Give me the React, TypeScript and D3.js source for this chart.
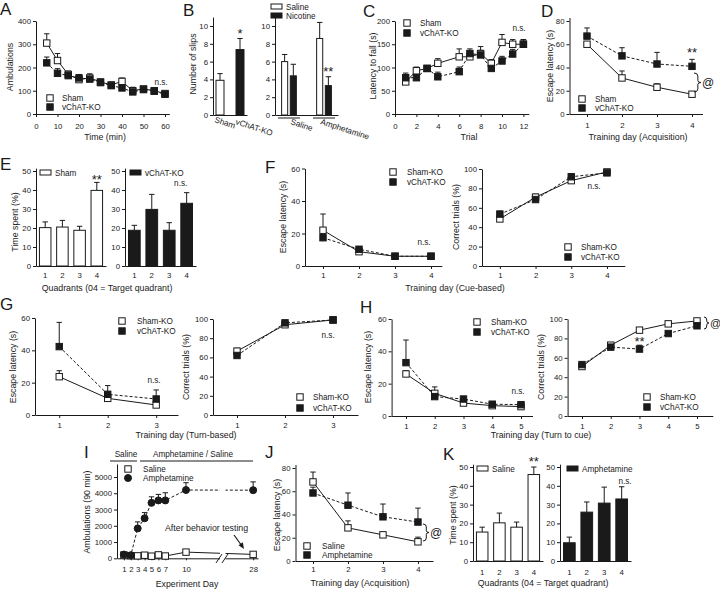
import React, { useEffect, useRef } from 'react';
import * as d3 from 'd3';

// ---------- data ----------
// A  open field
const timeMin = [5, 10, 15, 20, 25, 30, 35, 40, 45, 50, 55, 60];
const ambSham = [305, 230, 170, 148, 155, 138, 125, 140, 100, 108, 100, 88];
const ambShamErr = [40, 30, 15, 15, 18, 12, 12, 15, 15, 10, 10, 8];
const ambKo = [220, 175, 165, 155, 150, 135, 122, 112, 95, 105, 98, 85];
const ambKoErr = [25, 20, 15, 15, 15, 12, 10, 12, 10, 12, 10, 10];

// B  slips
const slipGroups = ['Sham', 'vChAT-KO'];
const slipMean = [3.9, 7.35];
const slipErr = [0.75, 1.25];
const drugGroups = ['Saline', 'Amphetamine'];
const treatGroups = ['Saline', 'Nicotine'];
const slipSaline = [6.0, 8.6];
const slipSalineErr = [0.8, 1.8];
const slipNicotine = [4.4, 3.3];
const slipNicotineErr = [1.3, 1.0];

// C  rotarod
const trials = [1, 2, 3, 4, 6, 7, 8, 9, 10, 11, 12];
const fallSham = [69, 93, 98, 109, 123, 123, 130, 109, 154, 150, 150];
const fallShamErr = [6, 8, 5, 10, 17, 12, 15, 8, 17, 10, 10];
const fallKo = [78, 78, 98, 80, 91, 130, 127, 98, 114, 129, 150];
const fallKoErr = [10, 8, 5, 10, 10, 10, 10, 8, 10, 10, 10];

// D  acquisition
const days4 = [1, 2, 3, 4];
const acqSham = [60, 31, 23, 17];
const acqShamErr = [1, 6, 3, 1];
const acqKo = [67, 50, 43, 41];
const acqKoErr = [7, 7, 10, 6];

// E  probe
const quadrants = ['1', '2', '3', '4'];
const probeSham = [20.2, 20.5, 18.8, 39.8];
const probeShamErr = [3, 3.5, 2.1, 4.2];
const probeKo = [18.8, 29.8, 18.8, 33];
const probeKoErr = [2.6, 7.9, 4, 5.6];

// F  cue-based
const cueLatSham = [22, 8.8, 6, 6];
const cueLatShamErr = [10, 1, 0.5, 1];
const cueLatKo = [17.4, 10.3, 6, 6];
const cueLatKoErr = [1.5, 1.5, 1, 1];
const cueCorSham = [48.5, 71, 88, 97];
const cueCorShamErr = [2, 3, 2, 1];
const cueCorKo = [53.5, 68.5, 92, 96];
const cueCorKoErr = [3, 2, 1, 1];

// G  turn-based
const days3 = [1, 2, 3];
const turnLatSham = [23.7, 10.3, 6.2];
const turnLatShamErr = [3.7, 1, 1.5];
const turnLatKo = [42.3, 12.8, 9.9];
const turnLatKoErr = [15, 5.4, 5.6];
const turnCorSham = [66.5, 94, 99];
const turnCorShamErr = [3, 1, 0.5];
const turnCorKo = [62, 96, 99];
const turnCorKoErr = [3, 1, 0.5];

// H  turn to cue
const days5 = [1, 2, 3, 4, 5];
const ttcLatSham = [26, 14, 8, 6.4, 5.8];
const ttcLatShamErr = [2, 4, 1, 1, 1];
const ttcLatKo = [33, 12, 10.5, 7.3, 7];
const ttcLatKoErr = [14, 2, 1.5, 1, 1];
const ttcCorSham = [51, 73, 88.5, 95, 98];
const ttcCorShamErr = [2, 2, 1.5, 1, 1];
const ttcCorKo = [53, 71, 69, 85, 93];
const ttcCorKoErr = [2, 2, 4, 2, 2];

// I  amphetamine sensitisation
const expDays = [1, 2, 3, 4, 5, 6, 7, 10, 28];
const expDayTicks = [1, 2, 3, 4, 5, 6, 7, 10, 28];
const ambSal = [200, 160, 150, 190, 130, 210, 140, 380, 240];
const ambSalErr = [0, 0, 0, 0, 0, 0, 0, 0, 0];
const ambAmph = [230, 190, 1840, 2460, 3410, 3560, 3560, 4200, 4190];
const ambAmphErr = [0, 0, 400, 350, 370, 370, 470, 450, 510];

// J  acquisition after amphetamine
const jSal = [68, 28.5, 22.5, 16.5];
const jSalErr = [8.5, 6, 1, 4];
const jAmph = [58.5, 48, 38, 33.5];
const jAmphErr = [5, 10.5, 11, 12];

// K  probe after amphetamine
const kSal = [15.4, 20.3, 18, 46];
const kSalErr = [2.6, 5.2, 2.7, 4];
const kAmph = [9.7, 26, 30.8, 33];
const kAmphErr = [3, 5.4, 8.5, 6.5];

// ---------- helpers ----------
const INK = '#1a1a1a';
const FONT = '"Liberation Sans", Arial, Helvetica, sans-serif';
const TICK = 7.8;
const LEG = 8.2;
const TITLE = 8.8;
const fmt = d3.format('d');

type Ser = { xs: number[]; mean: number[]; err: number[]; filled: boolean; dashed: boolean; shape?: string };

function styleAxis(a: any) {
  a.attr('font-family', FONT).attr('font-size', TICK);
  a.select('.domain').attr('stroke', INK).attr('stroke-width', 1);
  a.selectAll('.tick line').attr('stroke', INK).attr('stroke-width', 1);
  a.selectAll('.tick text').attr('fill', INK);
}

function yAxis(g: any, y: any, x: number, ticks: number[]) {
  const a = g.append('g').attr('transform', `translate(${x},0)`)
    .call(d3.axisLeft(y).tickValues(ticks).tickSize(3).tickSizeOuter(0).tickPadding(2).tickFormat(fmt as any));
  styleAxis(a);
}

function xAxis(g: any, x: any, y: number, ticks: number[], size: number, pad: number) {
  const a = g.append('g').attr('transform', `translate(0,${y})`)
    .call(d3.axisBottom(x).tickValues(ticks).tickSize(size).tickSizeOuter(0).tickPadding(pad).tickFormat(fmt as any));
  styleAxis(a);
}

function bandAxis(g: any, x: any, y: number, pad: number) {
  const a = g.append('g').attr('transform', `translate(0,${y})`)
    .call(d3.axisBottom(x).tickSize(0).tickSizeOuter(0).tickPadding(pad));
  styleAxis(a);
  return a;
}

function txt(g: any, x: number, y: number, s: string, size = LEG, anchor = 'start', rot = 0) {
  return g.append('text')
    .attr('transform', `translate(${x},${y})` + (rot ? ` rotate(${rot})` : ''))
    .attr('text-anchor', anchor)
    .attr('font-family', FONT).attr('font-size', size).attr('fill', INK)
    .text(s);
}
const letter = (g: any, x: number, y: number, s: string) => txt(g, x, y, s, 17);
const ytitle = (g: any, cx: number, cy: number, s: string) => txt(g, cx + 3, cy, s, TITLE, 'middle', -90);

function mark(g: any, cx: number, cy: number, filled: boolean, shape = 'square') {
  if (shape === 'circle') {
    g.append('circle').attr('cx', cx).attr('cy', cy).attr('r', 3.5)
      .attr('fill', filled ? INK : '#fff').attr('stroke', INK).attr('stroke-width', 1);
  } else {
    g.append('rect').attr('x', cx - 3.2).attr('y', cy - 3.2).attr('width', 6.4).attr('height', 6.4)
      .attr('fill', filled ? INK : '#fff').attr('stroke', INK).attr('stroke-width', 1);
  }
}

function legend(g: any, cx: number, cy: number, filled: boolean, s: string, gap = 13, shape = 'square') {
  mark(g, cx, cy, filled, shape);
  txt(g, cx + gap, cy + 3, s, LEG);
}

function boxLegend(g: any, x: number, y: number, filled: boolean, s: string) {
  g.append('rect').attr('x', x).attr('y', y).attr('width', 11).attr('height', 5)
    .attr('fill', filled ? INK : '#fff').attr('stroke', INK).attr('stroke-width', 1);
  txt(g, x + 15, y + 5.5, s, LEG);
}

function errBar(g: any, cx: number, y0: number, y1: number, cap = 2.7) {
  g.append('line').attr('x1', cx).attr('x2', cx).attr('y1', y0).attr('y2', y1).attr('stroke', INK).attr('stroke-width', 1);
  g.append('line').attr('x1', cx - cap).attr('x2', cx + cap).attr('y1', y1).attr('y2', y1).attr('stroke', INK).attr('stroke-width', 1);
}

function drawPaths(g: any, x: any, y: any, list: Ser[]) {
  list.forEach((s) => {
    const line = d3.line<number>().x((_, i) => x(s.xs[i])).y((d) => y(d));
    g.append('path').attr('d', line(s.mean)).attr('fill', 'none').attr('stroke', INK)
      .attr('stroke-width', 1).attr('stroke-dasharray', s.dashed ? '3,2' : null);
  });
}
function drawErrs(g: any, x: any, y: any, list: Ser[]) {
  list.forEach((s) => s.mean.forEach((m, i) => {
    if (s.err[i]) errBar(g, x(s.xs[i]), y(m), y(m + s.err[i]));
  }));
}
function drawMarks(g: any, x: any, y: any, list: Ser[]) {
  list.forEach((s) => s.mean.forEach((m, i) => mark(g, x(s.xs[i]), y(m), s.filled, s.shape)));
}
function plot(g: any, x: any, y: any, list: Ser[]) {
  drawPaths(g, x, y, list);
  drawErrs(g, x, y, list);
  drawMarks(g, x, y, list);
}

function drawBars(g: any, xb: any, y: any, cats: string[], mean: number[], err: number[], filled: boolean, offset = 0) {
  cats.forEach((c, i) => {
    const x0 = xb(c) + offset, w = xb.bandwidth();
    g.append('rect').attr('x', x0).attr('y', y(mean[i])).attr('width', w).attr('height', y(0) - y(mean[i]))
      .attr('fill', filled ? INK : '#fff').attr('stroke', INK).attr('stroke-width', 1);
    errBar(g, x0 + w / 2, y(mean[i]), y(mean[i] + err[i]));
  });
}

function brace(g: any, x: number, y0: number, y1: number, w = 6) {
  const m = (y0 + y1) / 2;
  const xm = x + w * 0.55;
  g.append('path')
    .attr('d', `M${x},${y0} Q${xm},${y0} ${xm},${y0 + 3} L${xm},${m - 2} Q${xm},${m} ${x + w},${m} Q${xm},${m} ${xm},${m + 2} L${xm},${y1 - 3} Q${xm},${y1} ${x},${y1}`)
    .attr('fill', 'none').attr('stroke', INK).attr('stroke-width', 1);
}

// ---------- panels ----------
function drawA(svg: any) {
  const g = svg.append('g');
  const x = d3.scaleLinear().domain([0, 62]).range([36, 169.3]);
  const y = d3.scaleLinear().domain([0, 400]).range([114, 21]);
  yAxis(g, y, 36, [0, 100, 200, 300, 400]);
  xAxis(g, x, 114, [0, 10, 20, 30, 40, 50, 60], 3, 6);
  plot(g, x, y, [
    { xs: timeMin, mean: ambSham, err: ambShamErr, filled: false, dashed: false },
    { xs: timeMin, mean: ambKo, err: ambKoErr, filled: true, dashed: true },
  ]);
  letter(g, 0, 15, 'A');
  legend(g, 50, 98, false, 'Sham', 12);
  legend(g, 50, 107, true, 'vChAT-KO', 12);
  txt(g, 161, 85, 'n.s.', LEG, 'middle');
  txt(g, 105, 140, 'Time (min)', TITLE, 'middle');
  ytitle(g, 10, 67, 'Ambulations');
}

function drawB(svg: any) {
  const g = svg.append('g');
  const y = d3.scaleLinear().domain([0, 11]).range([115, 17.1]);
  // left: genotype
  const xl = d3.scaleBand().domain(slipGroups).range([213, 247]).paddingInner(0.6).paddingOuter(0.15);
  yAxis(g, y, 213, [0, 2, 4, 6, 8, 10]);
  bandAxis(g, xl, 115, 0).selectAll('.tick text').remove();
  drawBars(g, xl, y, slipGroups.slice(0, 1), slipMean.slice(0, 1), slipErr.slice(0, 1), false);
  drawBars(g, xl, y, slipGroups.slice(1), slipMean.slice(1), slipErr.slice(1), true);
  txt(g, (xl('vChAT-KO') as number) + xl.bandwidth() / 2, 38, '*', 13, 'middle');
  txt(g, 214, 122, 'Sham', LEG, 'start', 18);
  txt(g, 235, 124, 'vChAT-KO', LEG, 'start', 18);
  ytitle(g, 193, 64, 'Number of slips');
  letter(g, 183, 16, 'B');

  // right: drug x treatment
  const xg = d3.scaleBand().domain(drugGroups).range([275, 338]).paddingInner(0.43).paddingOuter(0.114);
  const xs = d3.scaleBand().domain(treatGroups).range([0, xg.bandwidth()]).padding(0.3);
  yAxis(g, y, 275, [0, 2, 4, 6, 8, 10]);
  bandAxis(g, xg, 115, 0).selectAll('.tick text').remove();
  drugGroups.forEach((d, i) => {
    const off = xg(d) as number;
    const gx = d3.scaleBand().domain(treatGroups).range([off, off + xg.bandwidth()]).padding(0.3);
    drawBars(g, gx, y, ['Saline'], [slipSaline[i]], [slipSalineErr[i]], false);
    drawBars(g, gx, y, ['Nicotine'], [slipNicotine[i]], [slipNicotineErr[i]], true);
    g.append('line').attr('x1', off - 1).attr('x2', off + xg.bandwidth() + 1).attr('y1', 118).attr('y2', 118)
      .attr('stroke', INK).attr('stroke-width', 1);
  });
  const amphOff = xg('Amphetamine') as number;
  txt(g, amphOff + (xs('Nicotine') as number) + xs.bandwidth() / 2, 76, '**', 13, 'middle');
  txt(g, 290, 124, 'Saline', LEG, 'start', 18);
  txt(g, 320, 124, 'Amphetamine', LEG, 'start', 18);
  boxLegend(g, 271, 4, false, 'Saline');
  boxLegend(g, 271, 13, true, 'Nicotine');
}

function drawC(svg: any) {
  const g = svg.append('g');
  const x = d3.scaleLinear().domain([0, 12.5]).range([395, 528.75]);
  const y = d3.scaleLinear().domain([0, 200]).range([114, 21]);
  yAxis(g, y, 395, [0, 50, 100, 150, 200]);
  xAxis(g, x, 114, [0, 2, 4, 6, 8, 10, 12], 3, 6);
  plot(g, x, y, [
    { xs: trials, mean: fallSham, err: fallShamErr, filled: false, dashed: false },
    { xs: trials, mean: fallKo, err: fallKoErr, filled: true, dashed: true },
  ]);
  letter(g, 363, 17, 'C');
  legend(g, 407, 23, false, 'Sham');
  legend(g, 407, 33, true, 'vChAT-KO');
  txt(g, 519, 31, 'n.s.', LEG, 'middle');
  txt(g, 469, 140, 'Trial', TITLE, 'middle');
  ytitle(g, 373, 66, 'Latency to fall (s)');
}

function drawD(svg: any) {
  const g = svg.append('g');
  const x = d3.scaleLinear().domain([0.5, 4.3]).range([569.5, 702.5]);
  const y = d3.scaleLinear().domain([0, 83]).range([114, 17.5]);
  yAxis(g, y, 569.5, [0, 20, 40, 60, 80]);
  xAxis(g, x, 114, days4, 3, 5);
  plot(g, x, y, [
    { xs: days4, mean: acqSham, err: acqShamErr, filled: false, dashed: false },
    { xs: days4, mean: acqKo, err: acqKoErr, filled: true, dashed: true },
  ]);
  letter(g, 541, 17, 'D');
  legend(g, 582, 99, false, 'Sham');
  legend(g, 582, 108, true, 'vChAT-KO');
  txt(g, x(4), 57, '**', 13, 'middle');
  brace(g, 694, 73, 92, 7);
  txt(g, 702, 87, '@', 12);
  txt(g, 638, 140, 'Training day (Acquisition)', TITLE, 'middle');
  ytitle(g, 550, 66, 'Escape latency (s)');
}

function drawE(svg: any) {
  const g = svg.append('g');
  const y = d3.scaleLinear().domain([0, 51.5]).range([266, 168.15]);
  const xl = d3.scaleBand().domain(quadrants).range([36, 106]).paddingInner(0.33).paddingOuter(0.2);
  const xr = d3.scaleBand().domain(quadrants).range([125, 196]).paddingInner(0.33).paddingOuter(0.2);
  yAxis(g, y, 36, [0, 10, 20, 30, 40, 50]);
  yAxis(g, y, 125, [0, 10, 20, 30, 40, 50]);
  bandAxis(g, xl, 266, 6);
  bandAxis(g, xr, 266, 6);
  drawBars(g, xl, y, quadrants, probeSham, probeShamErr, false);
  drawBars(g, xr, y, quadrants, probeKo, probeKoErr, true);
  boxLegend(g, 40, 170, false, 'Sham');
  boxLegend(g, 130, 170, true, 'vChAT-KO');
  txt(g, (xl('4') as number) + xl.bandwidth() / 2, 184, '**', 13, 'middle');
  txt(g, (xr('4') as number) + xr.bandwidth() / 2 - 6, 186, 'n.s.', LEG, 'middle');
  letter(g, 0, 170, 'E');
  txt(g, 107, 291, 'Quadrants (04 = Target quadrant)', TITLE, 'middle');
  ytitle(g, 15, 222, 'Time spent (%)');
}

function drawF(svg: any) {
  const g = svg.append('g');
  const xl = d3.scaleLinear().domain([0.5, 4.3]).range([305, 441.8]);
  const yl = d3.scaleLinear().domain([0, 60]).range([266, 168.5]);
  yAxis(g, yl, 305, [0, 20, 40, 60]);
  xAxis(g, xl, 266, days4, 3, 3);
  plot(g, xl, yl, [
    { xs: days4, mean: cueLatSham, err: cueLatShamErr, filled: false, dashed: false },
    { xs: days4, mean: cueLatKo, err: cueLatKoErr, filled: true, dashed: true },
  ]);
  legend(g, 393, 172, false, 'Sham-KO', 14);
  legend(g, 393, 182, true, 'vChAT-KO', 14);
  txt(g, 424, 245, 'n.s.', LEG, 'middle');
  ytitle(g, 283, 217, 'Escape latency (s)');

  const xr = d3.scaleLinear().domain([0.5, 4.5]).range([482, 624.8]);
  const yr = d3.scaleLinear().domain([0, 100]).range([266, 169]);
  yAxis(g, yr, 482, [0, 20, 40, 60, 80, 100]);
  xAxis(g, xr, 266, days4, 3, 3);
  plot(g, xr, yr, [
    { xs: days4, mean: cueCorSham, err: cueCorShamErr, filled: false, dashed: false },
    { xs: days4, mean: cueCorKo, err: cueCorKoErr, filled: true, dashed: true },
  ]);
  legend(g, 568, 247, false, 'Sham-KO');
  legend(g, 568, 257, true, 'vChAT-KO');
  txt(g, 594, 189, 'n.s.', LEG, 'middle');
  ytitle(g, 456, 217, 'Correct trials (%)');
  letter(g, 265, 173, 'F');
  txt(g, 455, 291, 'Training day (Cue-based)', TITLE, 'middle');
}

function drawG(svg: any) {
  const g = svg.append('g');
  const xl = d3.scaleLinear().domain([0.5, 3.45]).range([35, 178]);
  const yl = d3.scaleLinear().domain([0, 60]).range([415, 318]);
  yAxis(g, yl, 35, [0, 20, 40, 60]);
  xAxis(g, xl, 415, days3, 3, 4);
  plot(g, xl, yl, [
    { xs: days3, mean: turnLatSham, err: turnLatShamErr, filled: false, dashed: false },
    { xs: days3, mean: turnLatKo, err: turnLatKoErr, filled: true, dashed: true },
  ]);
  legend(g, 122, 321, false, 'Sham-KO', 15);
  legend(g, 122, 331, true, 'vChAT-KO', 15);
  txt(g, 154, 383, 'n.s.', LEG, 'middle');
  ytitle(g, 13, 367, 'Escape latency (s)');

  const xr = d3.scaleLinear().domain([0.5, 3.52]).range([213, 358]);
  const yr = d3.scaleLinear().domain([0, 100]).range([415, 319]);
  yAxis(g, yr, 213, [0, 20, 40, 60, 80, 100]);
  xAxis(g, xr, 415, days3, 3, 4);
  plot(g, xr, yr, [
    { xs: days3, mean: turnCorSham, err: turnCorShamErr, filled: false, dashed: false },
    { xs: days3, mean: turnCorKo, err: turnCorKoErr, filled: true, dashed: true },
  ]);
  legend(g, 300, 397, false, 'Sham-KO');
  legend(g, 300, 408, true, 'vChAT-KO');
  txt(g, 328, 338, 'n.s.', LEG, 'middle');
  ytitle(g, 186, 367, 'Correct trials (%)');
  letter(g, 0, 310, 'G');
  txt(g, 186, 438, 'Training day (Turn-based)', TITLE, 'middle');
}

function drawH(svg: any) {
  const g = svg.append('g');
  const xl = d3.scaleLinear().domain([0.5, 5.4]).range([391.6, 532.5]);
  const yl = d3.scaleLinear().domain([0, 60]).range([416, 319]);
  yAxis(g, yl, 391.6, [0, 20, 40, 60]);
  xAxis(g, xl, 416, days5, 3, 4);
  plot(g, xl, yl, [
    { xs: days5, mean: ttcLatSham, err: ttcLatShamErr, filled: false, dashed: false },
    { xs: days5, mean: ttcLatKo, err: ttcLatKoErr, filled: true, dashed: true },
  ]);
  legend(g, 477, 322, false, 'Sham-KO', 14);
  legend(g, 477, 332, true, 'vChAT-KO', 14);
  txt(g, 518, 394, 'n.s.', LEG, 'middle');
  ytitle(g, 368, 367, 'Escape latency (s)');

  const xr = d3.scaleLinear().domain([0.5, 5.55]).range([567.6, 712.8]);
  const yr = d3.scaleLinear().domain([0, 100]).range([416, 319]);
  yAxis(g, yr, 567.6, [0, 20, 40, 60, 80, 100]);
  xAxis(g, xr, 416, days5, 3, 4);
  plot(g, xr, yr, [
    { xs: days5, mean: ttcCorSham, err: ttcCorShamErr, filled: false, dashed: false },
    { xs: days5, mean: ttcCorKo, err: ttcCorKoErr, filled: true, dashed: true },
  ]);
  legend(g, 647, 397, false, 'Sham-KO');
  legend(g, 647, 407, true, 'vChAT-KO');
  txt(g, xr(3), 346, '**', 13, 'middle');
  brace(g, 704, 317, 329, 5);
  txt(g, 710, 327, '@', 11);
  ytitle(g, 541, 367, 'Correct trials (%)');
  letter(g, 360, 313, 'H');
  txt(g, 541, 438, 'Training day (Turn to cue)', TITLE, 'middle');
}

function drawI(svg: any) {
  const g = svg.append('g');
  const x = d3.scaleLinear().domain([0, 10, 29.3]).range([117, 186, 258]);
  const y = d3.scaleLinear().domain([0, 5800]).range([558.3, 464]);
  yAxis(g, y, 117, [0, 1000, 2000, 3000, 4000, 5000]);
  xAxis(g, x, 558.3, expDayTicks, 2, 6);
  const list: Ser[] = [
    { xs: expDays, mean: ambSal, err: ambSalErr, filled: false, dashed: false },
    { xs: expDays, mean: ambAmph, err: ambAmphErr, filled: true, dashed: true, shape: 'circle' },
  ];
  drawPaths(g, x, y, list);
  // axis break
  g.append('rect').attr('x', 220).attr('y', 462).attr('width', 5.5).attr('height', 100).attr('fill', '#fff');
  [0, 6].forEach((dx) => {
    g.append('line').attr('x1', 216 + dx).attr('y1', 563).attr('x2', 222 + dx).attr('y2', 554)
      .attr('stroke', INK).attr('stroke-width', 1);
  });
  drawErrs(g, x, y, list);
  drawMarks(g, x, y, list);
  legend(g, 128, 469, false, 'Saline', 15);
  legend(g, 128, 478, true, 'Amphetamine', 15, 'circle');
  txt(g, 126, 457, 'Saline', LEG, 'middle');
  txt(g, 193, 457, 'Amphetamine / Saline', LEG, 'middle');
  g.append('line').attr('x1', 110).attr('x2', 137).attr('y1', 461).attr('y2', 461).attr('stroke', INK).attr('stroke-width', 1);
  g.append('line').attr('x1', 140).attr('x2', 253).attr('y1', 461).attr('y2', 461).attr('stroke', INK).attr('stroke-width', 1);
  txt(g, 165, 531, 'After behavior testing', TITLE);
  g.append('line').attr('x1', 234).attr('y1', 535).attr('x2', 242).attr('y2', 546).attr('stroke', INK).attr('stroke-width', 1.2);
  g.append('path').attr('d', 'M244,549 L238.5,545.2 L242.8,542.2 Z').attr('fill', INK);
  letter(g, 84, 458, 'I');
  txt(g, 187, 587, 'Experiment Day', TITLE, 'middle');
  ytitle(g, 87, 512, 'Ambulations (90 min)');
}

function drawJ(svg: any) {
  const g = svg.append('g');
  const x = d3.scaleLinear().domain([0.5, 4.43]).range([295.5, 433]);
  const y = d3.scaleLinear().domain([0, 83]).range([561, 464.5]);
  yAxis(g, y, 295.5, [0, 20, 40, 60, 80]);
  xAxis(g, x, 561, days4, 3, 2);
  plot(g, x, y, [
    { xs: days4, mean: jSal, err: jSalErr, filled: false, dashed: false },
    { xs: days4, mean: jAmph, err: jAmphErr, filled: true, dashed: true },
  ]);
  legend(g, 307, 546, false, 'Saline', 15);
  legend(g, 307, 555, true, 'Amphetamine', 15);
  brace(g, 423, 524, 541, 6);
  txt(g, 430, 537, '@', 12);
  letter(g, 265, 458, 'J');
  txt(g, 360, 586, 'Training day (Acquisition)', TITLE, 'middle');
  ytitle(g, 277, 515, 'Escape latency (s)');
}

function drawK(svg: any) {
  const g = svg.append('g');
  const y = d3.scaleLinear().domain([0, 51.5]).range([561, 464.2]);
  const xl = d3.scaleBand().domain(quadrants).range([473, 543]).paddingInner(0.33).paddingOuter(0.2);
  const xr = d3.scaleBand().domain(quadrants).range([560, 631]).paddingInner(0.33).paddingOuter(0.2);
  yAxis(g, y, 473, [0, 10, 20, 30, 40, 50]);
  yAxis(g, y, 560, [0, 10, 20, 30, 40, 50]);
  bandAxis(g, xl, 561, 8);
  bandAxis(g, xr, 561, 8);
  drawBars(g, xl, y, quadrants, kSal, kSalErr, false);
  drawBars(g, xr, y, quadrants, kAmph, kAmphErr, true);
  boxLegend(g, 477, 466, false, 'Saline');
  boxLegend(g, 567, 466, true, 'Amphetamine');
  txt(g, (xl('4') as number) + xl.bandwidth() / 2, 466, '**', 13, 'middle');
  txt(g, 625, 484, 'n.s.', LEG, 'middle');
  letter(g, 443, 460, 'K');
  txt(g, 543, 586, 'Quadrants (04 = Target quadrant)', TITLE, 'middle');
  ytitle(g, 453, 515, 'Time spent (%)');
}

export default function App() {
  const ref = useRef<SVGSVGElement>(null);
  useEffect(() => {
    const svg = d3.select(ref.current);
    svg.selectAll('*').remove();
    drawA(svg);
    drawB(svg);
    drawC(svg);
    drawD(svg);
    drawE(svg);
    drawF(svg);
    drawG(svg);
    drawH(svg);
    drawI(svg);
    drawJ(svg);
    drawK(svg);
  }, []);
  return (
    <svg
      ref={ref}
      width={720}
      height={589}
      style={{ position: 'absolute', left: 0, top: 0, background: '#fff' }}
    />
  );
}
